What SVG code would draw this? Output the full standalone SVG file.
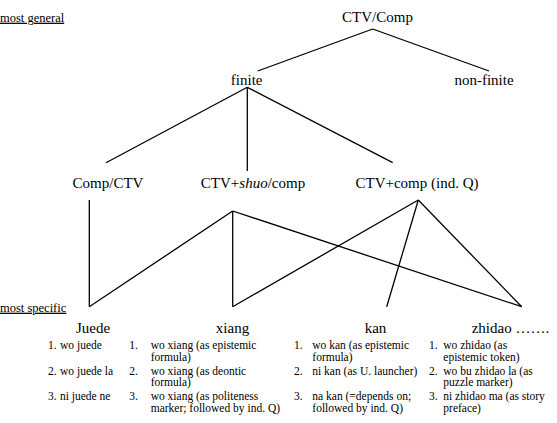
<svg xmlns="http://www.w3.org/2000/svg" width="557" height="423" viewBox="0 0 557 423">
<style>
text{font-family:'Liberation Serif','DejaVu Serif',serif;fill:#000}
.n{font-size:15px;text-anchor:middle}
.h{font-size:15px}
.lab{font-size:12.5px;text-decoration:underline}
.li{font-size:11.5px}
.c line{stroke:#000;stroke-width:1.3;fill:none}
</style>
<rect width="557" height="423" fill="#fff"/>
<g id="labels">
<text class="lab" x="0" y="21.7">most general</text>
<text class="lab" x="0" y="311.7">most specific</text>
</g>
<g class="c" id="connectors">
<line x1="372.7" y1="29" x2="257.7" y2="71"/>
<line x1="372.7" y1="29" x2="489" y2="71"/>
<line x1="247.3" y1="87.3" x2="106" y2="162.7"/>
<line x1="247.3" y1="87.3" x2="247.3" y2="171"/>
<line x1="247.3" y1="87.3" x2="392.7" y2="162.7"/>
<line x1="89.3" y1="200" x2="89.3" y2="306.7"/>
<line x1="89.3" y1="306.7" x2="232.7" y2="211"/>
<line x1="232.7" y1="211" x2="232.7" y2="306.7"/>
<line x1="232.7" y1="211" x2="521.7" y2="306.7"/>
<line x1="232.7" y1="306.7" x2="418.3" y2="200"/>
<line x1="418.3" y1="200" x2="386.7" y2="306.7"/>
<line x1="418.3" y1="200" x2="521.7" y2="306.7"/>
</g>
<g id="ctv-comp"><text class="n" x="377.5" y="21.7">CTV/Comp</text></g>
<g id="finite"><text class="n" x="246.7" y="85">finite</text></g>
<g id="non-finite"><text class="n" x="484" y="85">non-finite</text></g>
<g id="comp-ctv"><text class="n" x="108" y="188.3">Comp/CTV</text></g>
<g id="ctv-shuo"><text class="n" x="253" y="188.3">CTV+<tspan font-style="italic">shuo</tspan>/comp</text></g>
<g id="ctv-comp-indq"><text class="n" x="417" y="188.3">CTV+comp (ind. Q)</text></g>
<g id="juede">
<text class="n" x="93" y="333.3">Juede</text>
<text class="li" x="48" y="349.3">1.</text><text class="li" x="60" y="349.3">wo juede</text>
<text class="li" x="48" y="375">2.</text><text class="li" x="60" y="375">wo juede la</text>
<text class="li" x="48" y="400">3.</text><text class="li" x="60" y="400">ni juede ne</text>
</g>
<g id="xiang">
<text class="n" x="232.5" y="333.3">xiang</text>
<text class="li" x="129.3" y="349.3">1.</text><text class="li" x="150.7" y="349.3">wo xiang (as epistemic</text>
<text class="li" x="150.7" y="360.7">formula)</text>
<text class="li" x="129.3" y="375">2.</text><text class="li" x="150.7" y="375">wo xiang (as deontic</text>
<text class="li" x="150.7" y="386.3">formula)</text>
<text class="li" x="129.3" y="400">3.</text><text class="li" x="150.7" y="400">wo xiang (as politeness</text>
<text class="li" x="150.7" y="411.5">marker; followed by ind. Q)</text>
</g>
<g id="kan">
<text class="n" x="375.5" y="333.3">kan</text>
<text class="li" x="294" y="349.3">1.</text><text class="li" x="312.3" y="349.3">wo kan (as epistemic</text>
<text class="li" x="312.3" y="360.7">formula)</text>
<text class="li" x="294" y="375">2.</text><text class="li" x="312.3" y="375">ni kan (as U. launcher)</text>
<text class="li" x="294" y="400">3.</text><text class="li" x="312.3" y="400">na kan (=depends on;</text>
<text class="li" x="312.3" y="411.5">followed by ind. Q)</text>
</g>
<g id="zhidao">
<text class="h" x="471.7" y="333.3">zhidao …….</text>
<text class="li" x="429" y="349.3">1.</text><text class="li" x="443.3" y="349.3">wo zhidao (as</text>
<text class="li" x="443.3" y="360.7">epistemic token)</text>
<text class="li" x="429" y="375">2.</text><text class="li" x="443.3" y="375">wo bu zhidao la (as</text>
<text class="li" x="443.3" y="386.3">puzzle marker)</text>
<text class="li" x="429" y="400">3.</text><text class="li" x="443.3" y="400">ni zhidao ma (as story</text>
<text class="li" x="443.3" y="411.5">preface)</text>
</g>
</svg>
